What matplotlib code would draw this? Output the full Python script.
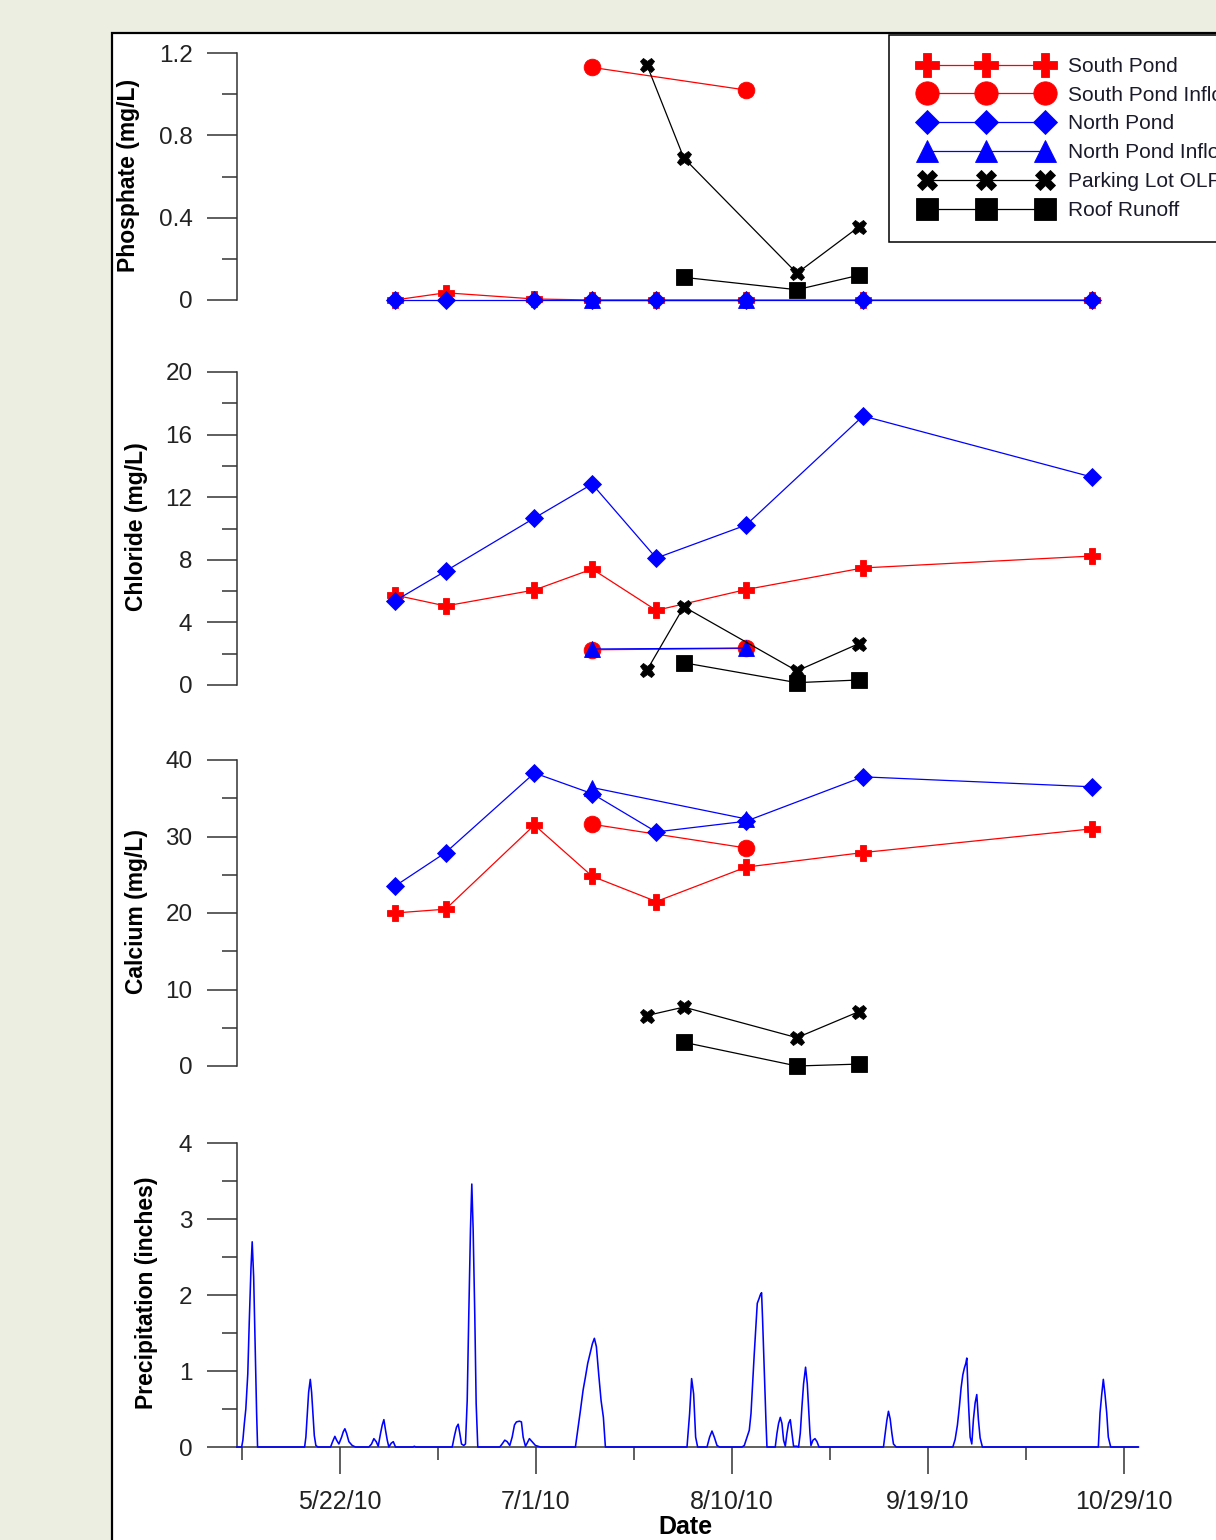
import matplotlib
matplotlib.use("Agg")
import matplotlib.pyplot as plt
import matplotlib.dates as mdates
from matplotlib.lines import Line2D
from matplotlib.patches import Rectangle
from matplotlib.ticker import FixedLocator, FixedFormatter
from matplotlib.legend_handler import HandlerLine2D
from datetime import datetime

plt.rcParams['font.family'] = ['Liberation Sans', 'DejaVu Sans']

# ---------------- data ----------------
pond_dates = ['2010-06-02 05:00', '2010-06-12 14:00', '2010-06-30 17:00', '2010-07-12 12:00',
              '2010-07-25 14:00', '2010-08-12 22:00', '2010-09-05 19:00', '2010-10-22 12:00']
inflow_dates = ['2010-07-12 12:00', '2010-08-12 22:00']
olf_dates = ['2010-07-23 17:00', '2010-07-31 05:00', '2010-08-23 07:00', '2010-09-04 22:00']
roof_dates = ['2010-07-31 05:00', '2010-08-23 07:00', '2010-09-04 22:00']

series_labels = ['South Pond', 'South Pond Inflow', 'North Pond', 'North Pond Inflow',
                 'Parking Lot OLF', 'Roof Runoff']

# Phosphate (mg/L)
south_pond_po4 = [0.0, 0.035, 0.005, 0.0, 0.0, 0.0, 0.0, 0.0]
south_inflow_po4 = [1.13, 1.02]
north_pond_po4 = [0.0, 0.0, 0.0, 0.0, 0.0, 0.0, 0.0, 0.0]
north_inflow_po4 = [0.0, 0.0]
olf_po4 = [1.14, 0.69, 0.13, 0.355]
roof_po4 = [0.11, 0.05, 0.12]

# Chloride (mg/L)
south_pond_cl = [5.75, 5.05, 6.07, 7.41, 4.77, 6.1, 7.48, 8.24]
south_inflow_cl = [2.25, 2.34]
north_pond_cl = [5.37, 7.28, 10.67, 12.84, 8.11, 10.22, 17.19, 13.29]
north_inflow_cl = [2.3, 2.36]
olf_cl = [0.96, 5.0, 0.9, 2.64]
roof_cl = [1.42, 0.15, 0.32]

# Calcium (mg/L)
south_pond_ca = [20.0, 20.5, 31.5, 24.8, 21.5, 26.0, 27.9, 31.0]
south_inflow_ca = [31.6, 28.5]
north_pond_ca = [23.5, 27.9, 38.3, 35.6, 30.6, 32.0, 37.8, 36.5]
north_inflow_ca = [36.4, 32.3]
olf_ca = [6.6, 7.7, 3.7, 7.1]
roof_ca = [3.1, 0.0, 0.25]

# Precipitation (inches); time as days after 2010-05-22
precip_day = [-21.0,
              -20.05, -19.8, -19.5, -19.2, -18.8, -18.5, -18.15, -17.9, -17.6, -17.3, -17.0, -16.8,
              -7.2, -6.94, -6.65, -6.38, -6.04, -5.77, -5.51, -5.22, -4.9, -4.49,
              -1.9, -1.49, -1.02, -0.67, -0.2, 0.35, 0.69, 1.02, 1.37, 1.84, 2.52, 3.2,
              5.92, 6.47, 6.94, 7.42, 7.83, 8.3, 8.65, 8.98, 9.32, 9.67, 10.0, 10.48, 10.9, 11.36,
              14.9, 15.2, 15.5,
              22.93, 23.4, 23.8, 24.15, 24.48, 24.82, 25.29, 25.64, 25.99, 26.31, 26.66, 26.93, 27.2,
              27.54, 27.82, 28.15,
              32.64, 33.12, 33.66, 34.15, 34.68, 35.17, 35.64, 36.04, 36.65, 37.06, 37.41, 37.88,
              38.22, 38.69, 39.24, 39.92, 40.94,
              48.08, 48.55, 49.1, 49.65, 50.12, 50.59, 51.14, 51.55, 51.95, 52.36, 52.83, 53.32, 53.79, 54.2,
              70.86, 71.39, 71.8, 72.21, 72.62, 73.03,
              74.94, 75.47, 75.96, 76.43, 76.98, 77.51,
              82.08, 82.55, 83.1, 83.57, 83.92, 84.24, 84.59, 84.94, 85.2, 85.55, 85.81, 86.08, 86.28,
              86.63, 86.98, 87.18,
              88.87, 89.22, 89.55, 89.9, 90.24, 90.57, 90.92, 91.26, 91.59, 91.94, 92.29, 92.61, 93.3,
              93.63, 93.98, 94.32, 94.65, 95.06, 95.41, 95.67, 95.96, 96.16, 96.57, 96.98, 97.39, 97.8,
              110.96, 111.31, 111.65, 111.98, 112.33, 112.68, 113.0, 113.55,
              125.12, 125.59, 126.06, 126.47, 126.81, 127.16, 127.48, 127.77, 127.97, 128.3, 128.65,
              128.99, 129.32, 129.67, 130.01, 130.34, 130.69, 131.16,
              154.82, 155.17, 155.51, 155.84, 156.19, 156.53, 156.86, 157.35,
              163.0]
precip_in = [0.0,
             0.0, 0.09, 0.31, 0.5, 0.96, 1.64, 2.35, 2.70, 2.24, 1.36, 0.46, 0.0,
             0.0, 0.13, 0.44, 0.72, 0.89, 0.72, 0.44, 0.15, 0.02, 0.0,
             0.0, 0.07, 0.14, 0.09, 0.04, 0.13, 0.2, 0.24, 0.18, 0.07, 0.02, 0.0,
             0.0, 0.04, 0.11, 0.07, 0.01, 0.18, 0.29, 0.36, 0.22, 0.09, 0.0, 0.05, 0.07, 0.0,
             0.0, 0.01, 0.0,
             0.0, 0.15, 0.26, 0.30, 0.18, 0.04, 0.02, 0.04, 0.61, 1.73, 2.87, 3.46, 2.87,
             1.73, 0.57, 0.0,
             0.0, 0.04, 0.09, 0.07, 0.02, 0.13, 0.29, 0.33, 0.34, 0.33, 0.13, 0.01,
             0.05, 0.11, 0.07, 0.02, 0.0,
             0.0, 0.22, 0.48, 0.75, 0.92, 1.10, 1.25, 1.36, 1.43, 1.32, 0.96, 0.61, 0.39, 0.0,
             0.0, 0.44, 0.90, 0.70, 0.13, 0.0,
             0.0, 0.13, 0.21, 0.13, 0.02, 0.0,
             0.0, 0.02, 0.13, 0.22, 0.44, 0.83, 1.23, 1.60, 1.89, 1.95, 2.0, 2.03, 1.69,
             1.01, 0.33, 0.0,
             0.0, 0.18, 0.31, 0.39, 0.31, 0.09, 0.01, 0.18, 0.31, 0.36, 0.18, 0.01, 0.01,
             0.0, 0.18, 0.53, 0.83, 1.05, 0.83, 0.53, 0.18, 0.02, 0.09, 0.11, 0.07, 0.0,
             0.0, 0.18, 0.35, 0.47, 0.37, 0.18, 0.04, 0.0,
             0.0, 0.1, 0.29, 0.54, 0.78, 0.95, 1.04, 1.10, 1.17, 0.6, 0.13,
             0.04, 0.36, 0.58, 0.69, 0.36, 0.12, 0.0,
             0.0, 0.45, 0.69, 0.89, 0.69, 0.45, 0.13, 0.0,
             0.0]

date_tick_labels = ['5/22/10', '7/1/10', '8/10/10', '9/19/10', '10/29/10']
major_tick_dates = ['2010-05-22', '2010-07-01', '2010-08-10', '2010-09-19', '2010-10-29']
minor_tick_dates = ['2010-05-02', '2010-06-11', '2010-07-21', '2010-08-30', '2010-10-09']

po4_ticks = [0, 0.4, 0.8, 1.2]
po4_labels = ['0', '0.4', '0.8', '1.2']
cl_ticks = [0, 4, 8, 12, 16, 20]
ca_ticks = [0, 10, 20, 30, 40]
pr_ticks = [0, 1, 2, 3, 4]

# ---------------- helpers ----------------
def d(s):
    return mdates.date2num(datetime.strptime(s, '%Y-%m-%d %H:%M') if ' ' in s
                           else datetime.strptime(s, '%Y-%m-%d'))

base = mdates.date2num(datetime(2010, 5, 22))
xmin = mdates.date2num(datetime(2010, 5, 1))
xmax = mdates.date2num(datetime(2010, 11, 1))

RED = '#FF0000'
BLUE = '#0000FF'
BLACK = '#000000'
styles = [
    dict(color=RED, marker='P', ms=12),
    dict(color=RED, marker='o', ms=12),
    dict(color=BLUE, marker='D', ms=8.8),
    dict(color=BLUE, marker='^', ms=11.5),
    dict(color=BLACK, marker='X', ms=10.5),
    dict(color=BLACK, marker='s', ms=11.5),
]

W, H = 1216, 1540
fig = plt.figure(figsize=(W / 100, H / 100), dpi=100, facecolor='#EBEEE0')

# white panel with black border (behind axes)
fig.patches.append(Rectangle((112 / W, -0.2), 1.2, 1 - 33 / H + 0.2, transform=fig.transFigure,
                             facecolor='white', edgecolor='black', linewidth=1.6, zorder=-5))

left = 237 / W
width = (1138.4 - 237) / W

def ax_at(top_px, bot_px):
    return fig.add_axes([left, 1 - bot_px / H, width, (bot_px - top_px) / H])

tick_color = '#333333'
tick_font = 17.5

def style_y(ax, lo, hi, major, minor, labels=None):
    ax.set_facecolor('none')
    ax.set_xlim(xmin, xmax)
    ax.set_ylim(lo, hi)
    for s in ['top', 'right']:
        ax.spines[s].set_visible(False)
    ax.spines['left'].set_color(tick_color)
    ax.spines['left'].set_linewidth(1.1)
    ax.yaxis.set_major_locator(FixedLocator(major))
    ax.yaxis.set_minor_locator(FixedLocator(minor))
    if labels is None:
        labels = [str(v) for v in major]
    ax.yaxis.set_major_formatter(FixedFormatter(labels))
    ax.tick_params(axis='y', which='major', direction='out', length=21.6, width=1.1,
                   color=tick_color, labelsize=tick_font, labelcolor='#222222', pad=10.5)
    ax.tick_params(axis='y', which='minor', direction='out', length=10.8, width=1.1,
                   color=tick_color)

def no_x(ax):
    ax.spines['bottom'].set_visible(False)
    ax.set_xticks([])

def plot_series(ax, datasets):
    for (dates, vals), st in zip(datasets, styles):
        ax.plot([d(s) for s in dates], vals, color=st['color'], lw=0.9, marker=st['marker'],
                ms=st['ms'], mfc=st['color'], mec=st['color'], mew=0.6, clip_on=False)

ax1 = ax_at(53, 300)
style_y(ax1, 0, 1.2, po4_ticks, [0.2, 0.6, 1.0], po4_labels)
no_x(ax1)
plot_series(ax1, [(pond_dates, south_pond_po4), (inflow_dates, south_inflow_po4),
                  (pond_dates, north_pond_po4), (inflow_dates, north_inflow_po4),
                  (olf_dates, olf_po4), (roof_dates, roof_po4)])

ax2 = ax_at(372, 685)
style_y(ax2, 0, 20, cl_ticks, [2, 6, 10, 14, 18])
no_x(ax2)
plot_series(ax2, [(pond_dates, south_pond_cl), (inflow_dates, south_inflow_cl),
                  (pond_dates, north_pond_cl), (inflow_dates, north_inflow_cl),
                  (olf_dates, olf_cl), (roof_dates, roof_cl)])

ax3 = ax_at(760, 1066)
style_y(ax3, 0, 40, ca_ticks, [5, 15, 25, 35])
no_x(ax3)
plot_series(ax3, [(pond_dates, south_pond_ca), (inflow_dates, south_inflow_ca),
                  (pond_dates, north_pond_ca), (inflow_dates, north_inflow_ca),
                  (olf_dates, olf_ca), (roof_dates, roof_ca)])

ax4 = ax_at(1143, 1447)
style_y(ax4, 0, 4, pr_ticks, [0.5, 1.5, 2.5, 3.5])
ax4.spines['bottom'].set_color(tick_color)
ax4.spines['bottom'].set_linewidth(1.1)
ax4.plot([base + t for t in precip_day], precip_in, color=BLUE, lw=1.15, clip_on=False, zorder=5)
ax4.xaxis.set_major_locator(FixedLocator([d(s) for s in major_tick_dates]))
ax4.xaxis.set_minor_locator(FixedLocator([d(s) for s in minor_tick_dates]))
ax4.xaxis.set_major_formatter(FixedFormatter(date_tick_labels))
ax4.tick_params(axis='x', which='major', direction='out', length=19.4, width=1.1,
                color=tick_color, labelsize=18, labelcolor='#222222', pad=11.5)
ax4.tick_params(axis='x', which='minor', direction='out', length=9.4, width=1.1, color=tick_color)

# axis labels
lab = dict(rotation=90, ha='center', va='center', fontsize=16.5, fontweight='bold', color='black')
fig.text(128 / W, 1 - 175 / H, 'Phosphate (mg/L)', **lab)
fig.text(137 / W, 1 - 527 / H, 'Chloride (mg/L)', **lab)
fig.text(137 / W, 1 - 912 / H, 'Calcium (mg/L)', **lab)
fig.text(147 / W, 1 - 1293 / H, 'Precipitation (inches)', **lab)
fig.text(685 / W, 1 - 1527 / H, 'Date', ha='center', va='center', fontsize=18,
         fontweight='bold', color='black')

# legend (extends past the right edge of the picture, as in the reference)
handles = [Line2D([], [], color=st['color'], lw=0.9, marker=st['marker'], ms=st['ms'],
                  mfc=st['color'], mec=st['color'], mew=0.6) for st in styles]
leg = fig.legend(handles, series_labels, loc='upper left',
                 bbox_to_anchor=(889 / W, 1 - 35 / H), bbox_transform=fig.transFigure,
                 borderaxespad=0, numpoints=3, markerscale=1.4, handlelength=7.2,
                 handletextpad=0.36, borderpad=1.05, labelspacing=0.47, fontsize=15,
                 frameon=True, fancybox=False, framealpha=1, edgecolor='black',
                 handler_map={Line2D: HandlerLine2D(marker_pad=0.75, numpoints=3)})
leg.get_frame().set_linewidth(1.1)
for t in leg.get_texts():
    t.set_color('#1a1a2a')

fig.savefig('out.png', dpi=100, facecolor=fig.get_facecolor())
